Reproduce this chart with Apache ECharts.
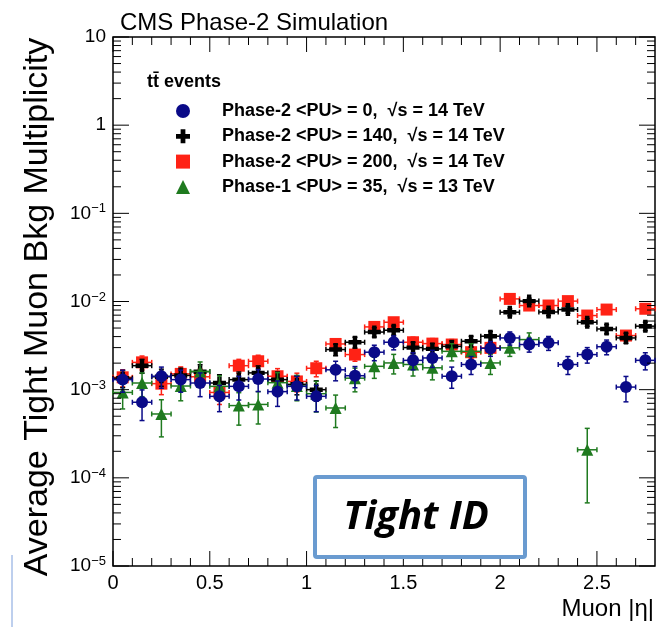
<!DOCTYPE html>
<html>
<head>
<meta charset="utf-8">
<script src="https://cdn.jsdelivr.net/npm/echarts@6/dist/echarts.min.js"></script>
<style>
  html, body { margin: 0; padding: 0; background: #fff; }
  #main { width: 658px; height: 627px; }
</style>
</head>
<body>
<div id="main"></div>
<script>
// bin centres in |eta| (bin width 0.1)
const etas = [0.05, 0.15, 0.25, 0.35, 0.45, 0.55, 0.65, 0.75, 0.85, 0.95,
  1.05, 1.15, 1.25, 1.35, 1.45, 1.55, 1.65, 1.75, 1.85, 1.95,
  2.05, 2.15, 2.25, 2.35, 2.45, 2.55, 2.65, 2.75];
const binHalf = 0.05;

const seriesNames = [
  'Phase-2 <PU> = 0,  \u221As = 14 TeV',
  'Phase-2 <PU> = 140,  \u221As = 14 TeV',
  'Phase-2 <PU> = 200,  \u221As = 14 TeV',
  'Phase-1 <PU> = 35,  \u221As = 13 TeV'
];

// average tight muon bkg multiplicity per bin
const pu0 = [1.30e-3, 7.2e-4, 1.42e-3, 1.30e-3, 1.19e-3, 8.4e-4, 1.09e-3, 1.32e-3, 9.5e-4, 1.09e-3,
  8.4e-4, 1.68e-3, 1.44e-3, 2.66e-3, 3.45e-3, 2.15e-3, 2.29e-3, 1.42e-3, 1.93e-3, 2.95e-3,
  3.86e-3, 3.25e-3, 3.40e-3, 1.93e-3, 2.50e-3, 3.07e-3, 1.07e-3, 2.15e-3];
const pu140 = [1.35e-3, 1.87e-3, 1.40e-3, 1.45e-3, 1.60e-3, 1.19e-3, 1.30e-3, 1.55e-3, 1.30e-3, 1.15e-3,
  1.00e-3, 2.85e-3, 3.45e-3, 4.50e-3, 4.72e-3, 3.00e-3, 2.90e-3, 3.10e-3, 3.54e-3, 4.04e-3,
  7.56e-3, 1.01e-2, 7.60e-3, 8.10e-3, 5.82e-3, 4.88e-3, 3.86e-3, 5.25e-3];
const pu200 = [1.38e-3, 2.04e-3, 1.17e-3, 1.51e-3, 1.40e-3, 9.3e-4, 1.87e-3, 2.10e-3, 1.42e-3, 1.24e-3,
  1.75e-3, 3.30e-3, 2.50e-3, 5.15e-3, 5.82e-3, 3.45e-3, 3.33e-3, 3.25e-3, 2.66e-3, 2.98e-3,
  1.07e-2, 9.0e-3, 9.0e-3, 1.01e-2, 6.93e-3, 8.1e-3, 4.11e-3, 8.27e-3];
const phase1 = [9.3e-4, 1.19e-3, 5.3e-4, 1.10e-3, 1.61e-3, 1.09e-3, 6.6e-4, 6.8e-4, 1.20e-3, 1.10e-3,
  9.0e-4, 6.2e-4, 1.35e-3, 1.84e-3, 2.01e-3, 1.93e-3, 1.77e-3, 2.72e-3, 2.72e-3, 2.01e-3,
  2.98e-3, 3.70e-3, null, null, 2.08e-4, null, null, null];

// relative vertical errors
const pu0Err = [0.28, 0.38, 0.27, 0.28, 0.30, 0.33, 0.30, 0.28, 0.32, 0.30,
  0.33, 0.25, 0.27, 0.20, 0.18, 0.22, 0.22, 0.27, 0.23, 0.19,
  0.17, 0.18, 0.18, 0.23, 0.20, 0.19, 0.32, 0.22];
const pu140Err = [0.22, 0.18, 0.22, 0.21, 0.20, 0.24, 0.22, 0.20, 0.22, 0.24,
  0.26, 0.15, 0.14, 0.12, 0.12, 0.15, 0.15, 0.15, 0.14, 0.13,
  0.09, 0.08, 0.09, 0.09, 0.10, 0.12, 0.13, 0.11];
const pu200Err = [0.22, 0.18, 0.25, 0.20, 0.22, 0.27, 0.18, 0.17, 0.22, 0.24,
  0.20, 0.14, 0.16, 0.11, 0.10, 0.14, 0.14, 0.14, 0.15, 0.14,
  0.08, 0.09, 0.09, 0.08, 0.10, 0.09, 0.13, 0.09];
const phase1Err = [0.35, 0.30, 0.45, 0.32, 0.28, 0.32, 0.40, 0.40, 0.30, 0.32,
  0.38, 0.40, 0.30, 0.27, 0.25, 0.26, 0.27, 0.22, 0.22, 0.26,
  0.20, 0.19, null, null, 0.75, null, null, null];

// axis ticks
const xMajorTicks = [0, 0.5, 1, 1.5, 2, 2.5];
const xMinorTicks = [0.1, 0.2, 0.3, 0.4, 0.6, 0.7, 0.8, 0.9, 1.1, 1.2, 1.3, 1.4,
  1.6, 1.7, 1.8, 1.9, 2.1, 2.2, 2.3, 2.4, 2.6, 2.7];
const yMajorTicks = [1e-5, 1e-4, 1e-3, 1e-2, 1e-1, 1, 10];
const yMinorSteps = [2, 3, 4, 5, 6, 7, 8, 9];

const chart = echarts.init(document.getElementById('main'));
const FONT = 'Liberation Sans';

function pts(vals) {
  return etas.map((e, i) => [e, vals[i]]).filter(d => d[1] != null);
}
function errs(vals, rel) {
  return etas.map((e, i) => vals[i] == null ? null :
    [e, vals[i], vals[i] * (1 - rel[i]), vals[i] * (1 + rel[i])]).filter(d => d);
}
function errRender(color) {
  return function (params, api) {
    const x = api.value(0), y = api.value(1), lo = api.value(2), hi = api.value(3);
    const c = api.coord([x, y]);
    const l = api.coord([x - binHalf, y]), r = api.coord([x + binHalf, y]);
    const t = api.coord([x, hi]), b = api.coord([x, lo]);
    const cap = 2.5;
    const st = { stroke: color, lineWidth: 1.5 };
    const ln = (x1, y1, x2, y2) => ({ type: 'line', shape: { x1, y1, x2, y2 }, style: st });
    return {
      type: 'group', children: [
        ln(l[0], c[1], r[0], c[1]),
        ln(l[0], c[1] - cap, l[0], c[1] + cap),
        ln(r[0], c[1] - cap, r[0], c[1] + cap),
        ln(c[0], t[1], c[0], b[1]),
        ln(c[0] - cap, t[1], c[0] + cap, t[1]),
        ln(c[0] - cap, b[1], c[0] + cap, b[1])
      ]
    };
  };
}

const yMinorTicks = [];
yMajorTicks.slice(0, -1).forEach(d => yMinorSteps.forEach(s => yMinorTicks.push(d * s)));

const xTickData = xMajorTicks.map(v => [v, 1e-5, 1]).concat(xMinorTicks.map(v => [v, 1e-5, 0]));
const yTickData = yMajorTicks.map(v => [0, v, 1]).concat(yMinorTicks.map(v => [0, v, 0]));

const colors = { blue: '#0a0a88', black: '#000000', red: '#ff2215', green: '#1f7a1f' };
const crossPath = 'path://M3.3,0H6.7V3.3H10V6.7H6.7V10H3.3V6.7H0V3.3H3.3Z';

const option = {
  animation: false,
  grid: {
    left: 113, right: 3, top: 37, bottom: 61,
    show: true, borderColor: '#000', borderWidth: 1.5, backgroundColor: 'transparent'
  },
  xAxis: {
    type: 'value', min: 0, max: 2.8, interval: 0.5,
    axisLine: { show: false }, axisTick: { show: false }, splitLine: { show: false },
    axisLabel: {
      color: '#000', fontSize: 20, fontFamily: FONT, margin: 7,
      formatter: v => (Math.abs(v * 2 - Math.round(v * 2)) < 1e-6 ? String(v) : '')
    }
  },
  yAxis: {
    type: 'log', logBase: 10, min: 1e-5, max: 10, interval: 1,
    axisLine: { show: false }, axisTick: { show: false }, splitLine: { show: false },
    minorTick: { show: false },
    axisLabel: {
      color: '#000', fontSize: 19, fontFamily: FONT, margin: 7,
      formatter: function (v) {
        const e = Math.round(Math.log10(v));
        if (e === 1) return '10';
        if (e === 0) return '1';
        return '10{s|\u2212' + (-e) + '}';
      },
      rich: { s: { fontSize: 13, fontFamily: FONT, color: '#000', verticalAlign: 'bottom', padding: [0, 0, 9, 0] } }
    }
  },
  legend: {
    orient: 'vertical', left: 171, top: 97,
    itemWidth: 14, itemHeight: 14, itemGap: 7.3,
    textStyle: { fontSize: 18, fontWeight: 'bold', fontFamily: FONT, color: '#000', lineHeight: 18, padding: [0, 0, 0, 27] },
    data: seriesNames
  },
  graphic: [
    { type: 'text', left: 120, top: 11, style: { text: 'CMS Phase-2 Simulation', font: '24px "Liberation Sans"', fill: '#000' } },
    { type: 'text', left: 147, top: 73, style: { text: 't\u0074\u0304 events', font: 'bold 18px "Liberation Sans"', fill: '#000' } },
    {
      type: 'text', x: 38, y: 307, rotation: Math.PI / 2,
      style: { text: 'Average Tight Muon Bkg Multiplicity', font: '34px "Liberation Sans"', fill: '#000', align: 'center', verticalAlign: 'middle' }
    },
    { type: 'text', right: 4, top: 597, style: { text: 'Muon |\u03B7|', font: '24px "Liberation Sans"', fill: '#000' } },
    {
      type: 'rect', shape: { x: 315, y: 477, width: 210, height: 80, r: 2 },
      style: { fill: '#fff', stroke: '#6a9bd0', lineWidth: 4 }, z: 50
    },
    {
      type: 'text', x: 416, y: 518, z: 51,
      style: { text: 'Tight ID', font: 'italic bold 40px "Open Sans"', fill: '#000', align: 'center', verticalAlign: 'middle' }
    },
    { type: 'line', shape: { x1: 12, y1: 555, x2: 12, y2: 627 }, style: { stroke: '#7d9fdc', lineWidth: 1 } }
  ],
  series: [
    { name: 'err200', type: 'custom', renderItem: errRender(colors.red), data: errs(pu200, pu200Err), z: 2 },
    { name: seriesNames[2], type: 'scatter', symbol: 'rect', symbolSize: 12, itemStyle: { color: colors.red, opacity: 1 }, data: pts(pu200), z: 3 },
    { name: 'err140', type: 'custom', renderItem: errRender(colors.black), data: errs(pu140, pu140Err), z: 4 },
    { name: seriesNames[1], type: 'scatter', symbol: crossPath, symbolSize: 13, itemStyle: { color: colors.black, opacity: 1 }, data: pts(pu140), z: 5 },
    { name: 'errP1', type: 'custom', renderItem: errRender(colors.green), data: errs(phase1, phase1Err), z: 6 },
    { name: seriesNames[3], type: 'scatter', symbol: 'triangle', symbolSize: 12, itemStyle: { color: colors.green, opacity: 1 }, data: pts(phase1), z: 7 },
    { name: 'err0', type: 'custom', renderItem: errRender(colors.blue), data: errs(pu0, pu0Err), z: 8 },
    { name: seriesNames[0], type: 'scatter', symbol: 'circle', symbolSize: 12, itemStyle: { color: colors.blue, opacity: 1 }, data: pts(pu0), z: 9 },
    {
      name: 'xticks', type: 'custom', silent: true, z: 20, data: xTickData,
      renderItem: function (params, api) {
        const v = api.value(0), major = api.value(2) === 1;
        const b = api.coord([v, 1e-5]), t = api.coord([v, 10]);
        const len = major ? 15 : 8;
        const st = { stroke: '#000', lineWidth: 1 };
        return {
          type: 'group', children: [
            { type: 'line', shape: { x1: b[0], y1: b[1], x2: b[0], y2: b[1] - len }, style: st },
            { type: 'line', shape: { x1: t[0], y1: t[1], x2: t[0], y2: t[1] + len }, style: st }
          ]
        };
      }
    },
    {
      name: 'yticks', type: 'custom', silent: true, z: 20, data: yTickData,
      renderItem: function (params, api) {
        const v = api.value(1), major = api.value(2) === 1;
        const l = api.coord([0, v]), r = api.coord([2.8, v]);
        const len = major ? 16 : 8;
        const st = { stroke: '#000', lineWidth: 1 };
        return {
          type: 'group', children: [
            { type: 'line', shape: { x1: l[0], y1: l[1], x2: l[0] + len, y2: l[1] }, style: st },
            { type: 'line', shape: { x1: r[0], y1: r[1], x2: r[0] - len, y2: r[1] }, style: st }
          ]
        };
      }
    }
  ]
};
chart.setOption(option);
</script>
</body>
</html>
